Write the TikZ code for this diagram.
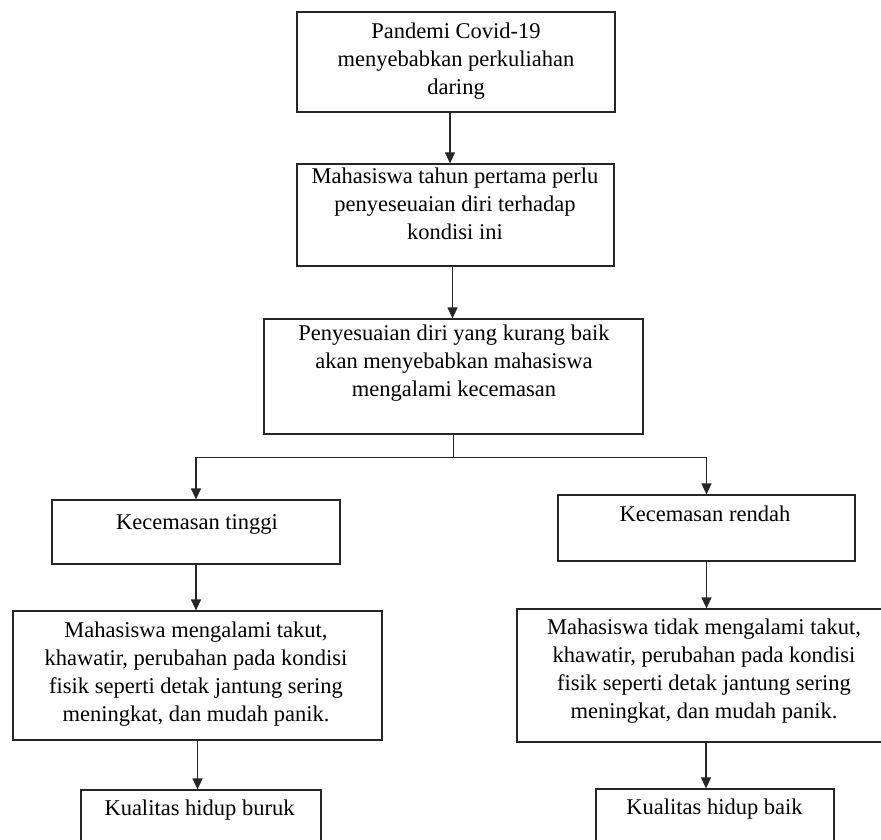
\documentclass[tikz,border=0pt]{standalone}
\usepackage{fontspec}
\setmainfont{Liberation Serif}
\usepackage{tikz}
\usetikzlibrary{arrows.meta}
\definecolor{flowline}{rgb}{0.15,0.15,0.15}
\tikzstyle{flowbox}=[rectangle, draw=flowline, line width=1.2pt, inner sep=0pt]
\tikzstyle{flowtext}=[align=center, inner sep=0pt, font=\fontsize{22.5}{28}\selectfont]
\tikzstyle{flowlink}=[draw=flowline, line width=1.2pt]
\tikzstyle{flowarrow}=[flowlink, -{Triangle[width=10pt,length=11pt]}]
\newcommand{\flowbox}[6]{
	\node[flowbox, minimum width=#3, minimum height=#4] (#1) at (#2) {};
	\node[flowtext] (#1text) at (#5) {#6};}

\begin{document}
\begin{tikzpicture}[x=1pt,y=-1pt]
\useasboundingbox (0,0) rectangle (881,840);
\clip (0,0) rectangle (881,840);
\flowbox{pandemi}{456,62}{318pt}{100pt}{456,61}{Pandemi Covid-19\\menyebabkan perkuliahan\\daring}
\flowbox{adaptasi}{455.5,215}{317pt}{102pt}{455,204}{Mahasiswa tahun pertama perlu\\penyeseuaian diri terhadap\\kondisi ini}
\flowbox{cemas}{453.5,376.5}{379pt}{115pt}{454,363}{Penyesuaian diri yang kurang baik\\akan menyebabkan mahasiswa\\mengalami kecemasan}
\flowbox{tinggi}{196,532}{288pt}{64pt}{197,524}{Kecemasan tinggi}
\flowbox{rendah}{706.5,528}{297pt}{66pt}{705,514}{Kecemasan rendah}
\flowbox{gejalatinggi}{197.5,675.5}{369pt}{129pt}{196,674.5}{Mahasiswa mengalami takut,\\khawatir, perubahan pada kondisi\\fisik seperti detak jantung sering\\meningkat, dan mudah panik.}
\flowbox{gejalarendah}{706,675.5}{378pt}{133pt}{704,671.5}{Mahasiswa tidak mengalami takut,\\khawatir, perubahan pada kondisi\\fisik seperti detak jantung sering\\meningkat, dan mudah panik.}
\flowbox{buruk}{201,825}{240pt}{70pt}{199.5,810}{Kualitas hidup buruk}
\flowbox{baik}{715,824}{238pt}{70pt}{714.5,809}{Kualitas hidup baik}
\coordinate (split) at ([yshift=-23pt]cemas.south);
\draw[flowarrow] ([xshift=-6pt]pandemi.south) -- ([xshift=-6pt]pandemi.south |- adaptasi.north);
\draw[flowarrow] ([xshift=-3pt]adaptasi.south) -- ([xshift=-3pt]adaptasi.south |- cemas.north);
\draw[flowlink] (cemas.south) -- (split);
\draw[flowarrow] (split) -| (tinggi.north);
\draw[flowarrow] (split) -| (rendah.north);
\draw[flowarrow] (tinggi.south) -- (tinggi.south |- gejalatinggi.north);
\draw[flowarrow] (rendah.south) -- (rendah.south |- gejalarendah.north);
\draw[flowarrow] (gejalatinggi.south) -- (gejalatinggi.south |- buruk.north);
\draw[flowarrow] (gejalarendah.south) -- (gejalarendah.south |- baik.north);
\end{tikzpicture}
\end{document}
